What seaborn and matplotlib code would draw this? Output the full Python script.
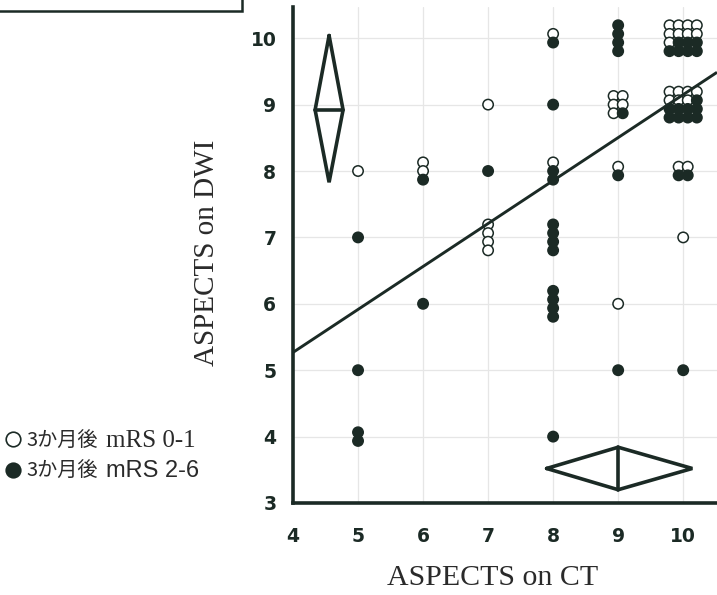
import numpy as np
import pandas as pd
import matplotlib
matplotlib.use("Agg")
import matplotlib.pyplot as plt
import seaborn as sns
from matplotlib.lines import Line2D
from matplotlib.patches import Rectangle
from matplotlib.offsetbox import HPacker, VPacker, TextArea, DrawingArea, AnchoredOffsetbox

# ---------------- data ----------------
ct_score  = [5, 5, 5, 5, 6, 6, 7, 7, 7, 8, 8, 8, 8, 8, 8, 9, 9, 9, 9, 9, 10, 10, 10, 10, 10]
dwi_score = [8, 7, 5, 4, 8, 6, 9, 8, 7, 10, 9, 8, 7, 6, 4, 10, 9, 8, 6, 5, 10, 9, 8, 7, 5]
n_good    = [1, 0, 0, 0, 2, 0, 1, 0, 4, 1, 0, 1, 0, 0, 0, 0, 5, 1, 1, 0, 9, 7, 2, 1, 0]  # mRS 0-1
n_poor    = [0, 1, 1, 2, 1, 1, 0, 1, 0, 1, 1, 2, 4, 4, 1, 4, 1, 1, 0, 1, 7, 9, 2, 0, 1]  # mRS 2-6

fit_intercept = 2.68
fit_slope = 0.647

dwi_mean = 8.92
dwi_ci = [7.83, 10.04]
ct_mean = 9.0
ct_ci = [7.9, 10.14]

x_ticks = [4, 5, 6, 7, 8, 9, 10]
y_ticks = [3, 4, 5, 6, 7, 8, 9, 10]
legend_prefix = ["3か月後", "3か月後"]
legend_suffix = ["mRS 0-1", "mRS 2-6"]
x_label = "ASPECTS on CT"
y_label = "ASPECTS on DWI"

# ---------------- layout of stacked dots ----------------
DARK = "#1b2a25"
TXT = "#2a2a2a"
DX, DY = 0.14, 0.13
rows = []
for ct, dwi, g, p in zip(ct_score, dwi_score, n_good, n_poor):
    labs = ["good"] * g + ["poor"] * p
    n = len(labs)
    if n >= 9:
        nc = 4
    elif n >= 5 or (n == 4 and g and p):
        nc = 2
    else:
        nc = 1
    nr = int(np.ceil(n / nc))
    for k, lab in enumerate(labs):
        r, c = divmod(k, nc)
        rows.append(dict(ct=ct, dwi=dwi, outcome=lab,
                         xp=ct + (c - (nc - 1) / 2) * DX,
                         yp=dwi + ((nr - 1) / 2 - r) * DY))
df = pd.DataFrame(rows)

# ---------------- figure ----------------
sns.set_theme(style="white")
plt.rcParams["font.family"] = ["DejaVu Sans", "Noto Sans CJK JP"]

W, H = 717, 595
fig = plt.figure(figsize=(W / 100, H / 100), dpi=100)
ax = fig.add_axes([293 / W, 92 / H, 1 - 293 / W, 496 / H])
ax.set_xlim(4, 10.52)
ax.set_ylim(3, 10.47)

ax.set_axisbelow(True)
ax.grid(True, color="#e6e6e6", lw=0.9)

sns.scatterplot(data=df, x="xp", y="yp", hue="outcome",
                palette={"good": "white", "poor": DARK},
                edgecolor=DARK, linewidth=1.1, s=56, legend=False,
                ax=ax, zorder=3)

xs = np.array([4, 10.52])
ax.plot(xs, fit_intercept + fit_slope * xs, color=DARK, lw=2.1, zorder=4,
        solid_capstyle="butt")

# DWI diamond (vertical) on the left
cx, hw = 4.555, 0.215
ax.plot([cx, cx + hw, cx, cx - hw, cx], [dwi_ci[1], dwi_mean, dwi_ci[0], dwi_mean, dwi_ci[1]],
        color=DARK, lw=2.6, zorder=4, solid_joinstyle="miter")
ax.plot([cx - hw, cx + hw], [dwi_mean, dwi_mean], color=DARK, lw=2.6, zorder=4)

# CT diamond (horizontal) at the bottom
cy, hh = 3.52, 0.32
ax.plot([ct_ci[0], ct_mean, ct_ci[1], ct_mean, ct_ci[0]], [cy, cy + hh, cy, cy - hh, cy],
        color=DARK, lw=2.6, zorder=4, solid_joinstyle="miter")
ax.plot([ct_mean, ct_mean], [cy - hh, cy + hh], color=DARK, lw=2.6, zorder=4)

# axes styling
for s in ["top", "right"]:
    ax.spines[s].set_visible(False)
for s in ["left", "bottom"]:
    ax.spines[s].set_linewidth(2.6)
    ax.spines[s].set_color(DARK)
ax.set_xticks(x_ticks)
ax.set_yticks(y_ticks)
ax.tick_params(axis="both", direction="in", length=7, width=2, color=DARK,
               labelsize=13.5, labelcolor=DARK)
ax.tick_params(axis="x", pad=17)
ax.tick_params(axis="y", pad=12)
for t in ax.get_xticklabels() + ax.get_yticklabels():
    t.set_fontweight("bold")

ax.set_xlabel(x_label, fontfamily="Liberation Serif", fontsize=21.5, color=TXT)
ax.xaxis.label.set_va("center")
ax.xaxis.set_label_coords((493 - 293) / 424, (503 - 578) / 496)
ax.set_ylabel(y_label, fontfamily="Liberation Serif", fontsize=21, color=TXT)
ax.yaxis.label.set_va("center")
ax.yaxis.set_label_coords((207 - 293) / 424, (503 - 253) / 496)

# legend (mixed fonts as in the original)
def marker_box(face):
    da = DrawingArea(13, 13, 0, 1.5)
    da.add_artist(Line2D([6.5], [5.5], marker="o", ls="", ms=10.5,
                         mfc=face, mec=DARK, mew=1.2))
    return da

suffix_fonts = [dict(family="Liberation Serif", size=18, color=TXT),
                dict(family="Liberation Sans", size=17, color=TXT)]
faces = ["white", DARK]
legend_rows = []
for pre, suf, face, sf in zip(legend_prefix, legend_suffix, faces, suffix_fonts):
    legend_rows.append(HPacker(children=[
        marker_box(face),
        HPacker(children=[
            TextArea(pre, textprops=dict(family="Noto Sans CJK JP", size=14.5, color=TXT)),
            TextArea(suf, textprops=sf),
        ], align="baseline", pad=0, sep=6),
    ], align="baseline", pad=0, sep=3))
vbox = VPacker(children=legend_rows, align="left", pad=0, sep=6)
anch = AnchoredOffsetbox(loc="upper left", child=vbox, pad=0, borderpad=0,
                         frameon=False, bbox_to_anchor=(4 / W, 1 - 430 / H),
                         bbox_transform=fig.transFigure)
fig.add_artist(anch)

# partial frame of the panel above (cropped)
fig.add_artist(Rectangle((-0.05, 1 - 11 / H), 242 / W + 0.05, 0.2,
                         transform=fig.transFigure, fill=False, lw=1.8,
                         ec=DARK, clip_on=False))

fig.savefig("out.png", dpi=100)
